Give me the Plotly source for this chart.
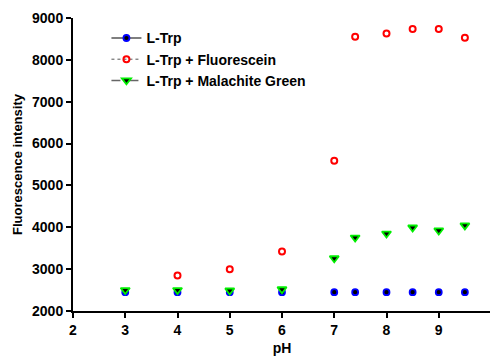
import plotly.graph_objects as go

ph_trp = [3, 4, 5, 6, 7, 7.4, 8, 8.5, 9, 9.5]
trp = [2450, 2450, 2450, 2450, 2450, 2450, 2450, 2450, 2450, 2450]

ph_fl = [4, 5, 6, 7, 7.4, 8, 8.5, 9, 9.5]
fluorescein = [2850, 3000, 3420, 5590, 8550, 8630, 8740, 8740, 8530]

ph_mg = [3, 4, 5, 6, 7, 7.4, 8, 8.5, 9, 9.5]
malachite = [2500, 2500, 2490, 2520, 3260, 3755, 3850, 3995, 3925, 4045]

names = ["L-Trp", "L-Trp + Fluorescein", "L-Trp + Malachite Green"]

m_trp = dict(symbol="circle", size=6, color="black", line=dict(color="#0000ff", width=1.8))
m_fl = dict(symbol="circle-open", size=6, color="#ff0000", line=dict(color="#ff0000", width=2))
m_mg = dict(symbol="triangle-down", size=8, color="black", line=dict(color="#00ee00", width=1.8))

fig = go.Figure()

# data markers (no connecting lines)
fig.add_trace(go.Scatter(x=ph_trp, y=trp, mode="markers", showlegend=False, marker=m_trp))
fig.add_trace(go.Scatter(x=ph_fl, y=fluorescein, mode="markers", showlegend=False, marker=m_fl))
fig.add_trace(go.Scatter(x=ph_mg, y=malachite, mode="markers", showlegend=False, marker=m_mg))

# legend entries
fig.add_trace(go.Scatter(x=[None], y=[None], mode="lines+markers", name=names[0],
                         line=dict(color="#555555", width=1.5, dash="solid"), marker=m_trp))
fig.add_trace(go.Scatter(x=[None], y=[None], mode="lines+markers", name=names[1],
                         line=dict(color="#555555", width=1, dash="dot"), marker=m_fl))
fig.add_trace(go.Scatter(x=[None], y=[None], mode="lines+markers", name=names[2],
                         line=dict(color="#666666", width=1.5, dash="dash"), marker=m_mg))

font_family = "Liberation Sans, Arial, sans-serif"
fig.update_layout(
    width=490, height=350,
    margin=dict(l=65, r=7, t=10, b=47),
    paper_bgcolor="white", plot_bgcolor="white",
    font=dict(family=font_family, size=14, color="black"),
    showlegend=True,
    legend=dict(x=0.08, y=0.985, xanchor="left", yanchor="top",
                bgcolor="rgba(0,0,0,0)", font=dict(size=14, weight="bold"),
                tracegroupgap=0, itemwidth=30),
    xaxis=dict(range=[2, 10], tickvals=[2, 3, 4, 5, 6, 7, 8, 9, 10],
               showgrid=False, zeroline=False, showline=True, linecolor="black",
               linewidth=2, ticks="outside", ticklen=5, tickwidth=2, tickcolor="black",
               tickfont=dict(size=14, weight="bold"), automargin=False,
               title=dict(text="pH", font=dict(size=14, weight="bold"), standoff=6)),
    yaxis=dict(range=[2000, 9000], tickvals=[2000, 3000, 4000, 5000, 6000, 7000, 8000, 9000],
               showgrid=False, zeroline=False, showline=True, linecolor="black",
               linewidth=2, ticks="outside", ticklen=5, tickwidth=2, tickcolor="black",
               tickfont=dict(size=14, weight="bold"), automargin=False,
               title=dict(text="Fluorescence intensity", font=dict(size=13, weight="bold"), standoff=6)),
)

fig.write_html("out.html")
